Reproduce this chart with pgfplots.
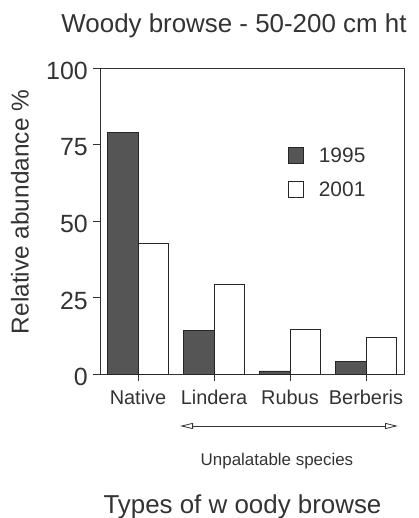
\documentclass[border=0pt]{standalone}
\usepackage{fontspec}
\setmainfont{Liberation Sans}
\usepackage{pgfplots}
\pgfplotsset{compat=1.18}
\usetikzlibrary{arrows.meta}
\definecolor{txt}{HTML}{333333}
\definecolor{darkbar}{HTML}{555555}
\begin{document}
\begin{tikzpicture}
\begin{axis}[
  at={(0,0)}, anchor=south west,
  scale only axis, width=304bp, height=306bp,
  xmin=-0.5, xmax=3.5, ymin=0, ymax=100,
  ybar, bar width=30.8bp,
  xtick={0,1,2,3}, xticklabels={Native,Lindera,Rubus,Berberis},
  ytick={0,25,50,75,100},
  tick align=outside, major tick length=7bp,
  xtick pos=bottom, ytick pos=left,
  axis line style={draw=txt, line width=0.8pt},
  tick style={draw=txt, line width=0.8pt},
  /pgf/number format/assume math mode=true,
  yticklabel style={font=\fontsize{25}{30}\selectfont, text=txt, inner sep=0pt, anchor=east, xshift=-5bp, yshift=-3bp},
  xticklabel style={font=\fontsize{20}{24}\selectfont, text=txt, inner sep=0pt, anchor=base, yshift=-23bp},
  legend style={at={(0.618,0.747)}, anchor=north west, draw=none, fill=none, inner sep=0pt,
    font=\fontsize{21}{25}\selectfont, text=txt, row sep=14bp,
    /tikz/every even column/.append style={column sep=0bp}},
  legend cell align=left,
  legend image code/.code={\draw[#1, line width=0.8pt] (0bp,-8bp) rectangle (15bp,8bp);},
  clip=false,
]
\addplot[bar shift=-15.4bp, fill=darkbar, draw=black!85, line width=0.8pt]
  coordinates {(0,79) (1,14.2) (2,1) (3,4.1)};
\addplot[bar shift=15.4bp, fill=white, draw=black!85, line width=0.8pt]
  coordinates {(0,42.6) (1,29.4) (2,14.6) (3,12)};
\legend{\hspace{13bp}1995, \hspace{13bp}2001}
\end{axis}
\draw[txt, line width=0.8pt, {Triangle[open, length=13bp, width=6bp]}-{Triangle[open, length=13bp, width=6bp]}] (80bp,-52bp) -- (298bp,-52bp);
\node[text=txt, font=\fontsize{17}{20}\selectfont, inner sep=0pt] at (177bp,-87bp) {Unpalatable species};
\node[text=txt, font=\fontsize{26}{30}\selectfont, inner sep=0pt, anchor=base] at (142.5bp,-139bp) {Types of w oody browse};
\node[text=txt, font=\fontsize{26}{30}\selectfont, inner sep=0pt, anchor=base] at (134bp,341bp) {Woody browse - 50-200 cm ht};
\node[text=txt, font=\fontsize{24.5}{29}\selectfont, inner sep=0pt, rotate=90] at (-80bp,162bp) {Relative abundance \%};
\pgfresetboundingbox
\path (-100bp,-144bp) rectangle (319bp,374bp);
\end{tikzpicture}
\end{document}
